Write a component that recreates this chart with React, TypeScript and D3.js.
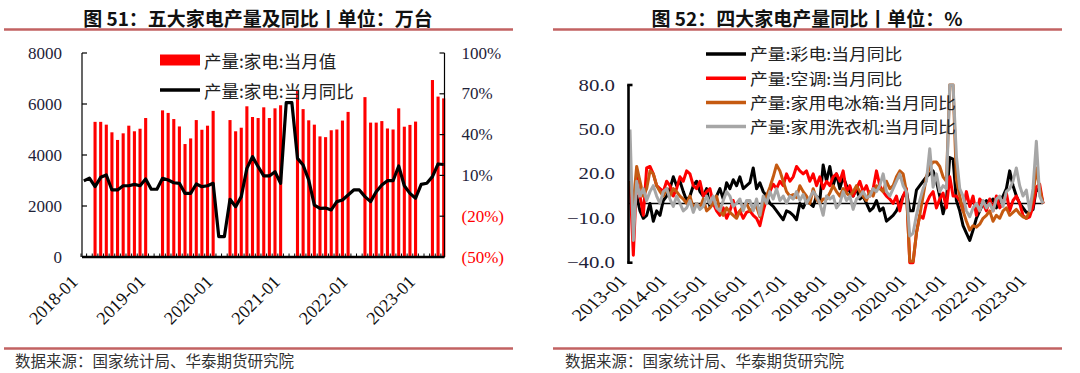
import React from 'react';
import * as d3 from 'd3';

const W = 1080;
const H = 373;
const SERIF = '"Liberation Serif", "Times New Roman", serif';
const CJK = '"Noto Sans CJK SC", "Noto Sans", sans-serif';
const RULE = '#c26262';

// month categories, "YYYY-MM"
const monthsFrom = (y0: number, n: number) =>
  d3.range(n).map(i => `${y0 + Math.floor(i / 12)}-${String((i % 12) + 1).padStart(2, '0')}`);

// ---- 图51: 五大家电产量 (万台) + 同比 (%) ----
const leftMonths = monthsFrom(2018, 65);
const homeOutput: (number | null)[] = [
  null, null, 5300, 5300, 5190, 4890, 4590, 4850, 5150, 4930, 5030, 5450,
  null, null, 5750, 5650, 5410, 5120, 4430, 4650, 5370, 4990, 5150, 5730,
  null, null, 5370, 4930, 5070, 5910, 5490, 5450, 5870, 5450, 5830, 5950,
  null, null, 6550, 5800, 5360, 5190, 4730, 4700, 4970, 5000, 5350, 5690,
  null, null, 6270, 5270, 5270, 5330, 5040, 5000, 5830, 5110, 5180, 5310,
  null, null, 6940, 6290, 6220,
];
const homeOutputYoY: number[] = [
  6, 8, 1.7, 8.6, 10.3, -0.7, -0.7, 2.4, 2.4, 3.4, 2.4, 7.4,
  -0.2, -0.2, 7.9, 6.6, 4.6, 4.2, -3.2, -3.2, 3.7, 1.7, 2.4, 4.2,
  -35, -35, -7.6, -13, -5.6, 15.2, 23.8, 16.4, 9.6, 9.6, 12.7, 4.2,
  63.5, 63.5, 22.5, 17.6, 6.6, -11.8, -14.2, -14, -15.4, -9.3, -8.1, -4.4,
  -0.7, -0.7, -5.6, -9.3, -2, 2.9, 6.1, 6.1, 16.9, 2.4, -3.2, -6.8,
  3.4, 4.2, 9.1, 18.4, 18,
];
const outputTicks = [0, 2000, 4000, 6000, 8000];
const yoyPctTicks = [-50, -20, 10, 40, 70, 100];

// ---- 图52: 四大家电产量同比 (%) ----
const rightMonths = monthsFrom(2013, 125);
const tvYoY: number[] = [
  15, -10, 5, -5, -10, -8, 0, -12, -5, -8, 2, 5,
  10, 18, 12, 15, 8, 2, 5, 12, 15, 8, 5, 10,
  -2, 0, 5, 10, 3, 14, 10, 16, 12, 18, 10, 12,
  14, 24, 10, 14, 8, 5, 0, -2, -5, -8, -11, -5,
  -6, -8, -11, 0, -3, 2, 0, -2, 5, 2, 26, 15,
  25, 12, 20, 10, 18, 12, 8, 5, 10, 3, 5, 0,
  -5, -3, 2, -5, -3, -12, -10, -8, -5, 0, 5, 8,
  -5, -5, 9, 12, 15, 18, 20, 22, 15, 5, -7, 2,
  31, 30, 2, -5, -15, -20, -25, -18, -10, -5, 0, 2,
  0, 3, -3, 2, 5, 10, 22, 12, 5, 0, -3, -6,
  -6, -4, 10, 8, 0,
];
const acYoY: number[] = [
  15, -35, 18, 5, -8, 24, 25, 20, 12, 10, 8, 15,
  12, 5, 10, 18, 15, 22, 20, 12, 10, 15, 5, 8,
  10, 0, -5, -8, -3, -10, -5, 2, -8, -5, -10, -6,
  -5, -8, -10, -15, -5, 3, 8, 13, 10, 15, 12, 20,
  15, 18, 25, 22, 20, 22, 15, 20, 12, 18, 10, 15,
  12, 18, 20, 15, 22, 8, 12, 5, 10, 15, 8, 12,
  5, 10, 22, 12, 8, 5, 3, 0, 5, -5, 5, 10,
  -40, -40, -20, -8, -10, 0, 5, 8, -3, 3, 7, -3,
  18, 5, 5, 2, -5, 8, -2, 5, -8, 3, 0, -5,
  3, -5, 5, -3, 0, 7, -5, 2, 5, 0, -8, -10,
  -9, -2, 11, 13, 0,
];
const fridgeYoY: number[] = [
  15, 0, 25, 15, 5, 10, 22, 20, 12, 8, 5, 10,
  5, 10, 8, 5, 3, 0, 5, -3, 0, -3, 3, -5,
  -3, 0, 5, -5, -8, -3, -6, -8, -10, -5, -2, 0,
  -5, -3, -2, -9, 0, 5, 11, 18, 26, 22, 15, 8,
  5, 6, 4, 12, 8, 5, 0, 10, 3, 0, 3, 3,
  7, 12, 8, 5, 10, 7, 5, 8, 12, 8, 5, 2,
  8, 5, 12, 10, 8, 15, 10, 12, 18, 22, 20, 8,
  -39, -39, -20, -8, 5, 18, 25, 28, 28, 25, 18, 15,
  80, 80, 16, 5, -5, -12, -18, -15, -16, -14, -10, -8,
  -5, -12, -8, -10, -5, -3, -8, -6, -4, -7, -9, -10,
  -5, 5, 24, 10, 0,
];
const washerYoY: number[] = [
  50, -25, 15, 5, 10, 2, 8, 12, 5, 0, 8, 10,
  3, -2, 5, 0, -5, -3, 2, -6, 0, -4, -2, 5,
  0, 5, -3, -5, 2, 8, 5, -2, 0, 3, -5, 2,
  2, -5, 3, -8, 5, 0, 8, 3, 10, 2, 5, 0,
  5, 3, 8, 2, 6, 0, 4, 8, 5, 0, -8, 5,
  3, 5, -3, 0, 8, 2, 5, -4, 3, 5, 8, 4,
  5, 10, 8, 12, 20, 8, 5, 10, 15, 20, 12, 8,
  -22, -20, -8, 2, 10, 15, 37, 11, 20, 8, 12, 10,
  80, 80, 32, 10, 5, -5, -9, -3, 0, -5, 2, -3,
  0, -5, 3, 5, -2, 8, 10, 15, 24, 12, 5, 9,
  -5, 10, 42, 5, 0,
];
const fourTicks = [-40, -10, 20, 50, 80];

const fourSeries = [
  { name: '产量:彩电:当月同比', color: '#000000', values: tvYoY },
  { name: '产量:空调:当月同比', color: '#ff0000', values: acYoY },
  { name: '产量:家用电冰箱:当月同比', color: '#c55a11', values: fridgeYoY },
  { name: '产量:家用洗衣机:当月同比', color: '#a6a6a6', values: washerYoY },
];

const pctLabel = (v: number) => (v < 0 ? `(${-v}%)` : `${v}%`);

const LeftPanel: React.FC = () => {
  const top = 53, bottom = 257, left = 82, right = 444.5;
  const x = d3.scaleBand<string>().domain(leftMonths).range([81, 446.5]).paddingInner(0.45).paddingOuter(0.225);
  const yL = d3.scaleLinear().domain([0, 8000]).range([bottom, top]);
  const yR = d3.scaleLinear().domain([-50, 100]).range([bottom, top]);
  const cx = (m: string) => (x(m) ?? 0) + x.bandwidth() / 2;
  const line = d3.line<number>().x((_, i) => cx(leftMonths[i])).y(d => yR(d));
  const boundaries = leftMonths.map(m => (x(m) ?? 0) - (x.step() - x.bandwidth()) / 2);

  return (
    <g>
      <text x={258} y={17} textAnchor="middle" dominantBaseline="central" fontFamily={CJK} fontWeight={700} fontSize={19} fill="#111">
        图 51：五大家电产量及同比丨单位：万台
      </text>
      <line x1={4} x2={513} y1={29.5} y2={29.5} stroke={RULE} strokeWidth={2.5} />

      {homeOutput.map((v, i) =>
        v == null ? null : (
          <rect key={i} x={x(leftMonths[i])} y={yL(v)} width={x.bandwidth()} height={bottom - yL(v)} fill="#ff0000" />
        )
      )}
      <path d={line(homeOutputYoY) ?? ''} fill="none" stroke="#000" strokeWidth={3.2} strokeLinejoin="round" />

      {/* axes */}
      <line x1={left} x2={left} y1={top} y2={bottom} stroke="#000" strokeWidth={1.2} />
      <line x1={right} x2={right} y1={top} y2={bottom} stroke="#000" strokeWidth={1.2} />
      {outputTicks.map(t => (
        <g key={t}>
          <line x1={left} x2={left + 5} y1={yL(t)} y2={yL(t)} stroke="#000" strokeWidth={1.2} />
          <text x={62} y={yL(t)} textAnchor="end" dominantBaseline="central" fontFamily={SERIF} fontSize={17} fill="#1e2238">
            {t}
          </text>
        </g>
      ))}
      {yoyPctTicks.map(t => (
        <g key={t}>
          <line x1={right - 5} x2={right} y1={yR(t)} y2={yR(t)} stroke="#000" strokeWidth={1.2} />
          <text x={461.5} y={yR(t)} dominantBaseline="central" fontFamily={SERIF} fontSize={17} fill={t < 0 ? '#ff0000' : '#1e2238'}>
            {pctLabel(t)}
          </text>
        </g>
      ))}
      <line x1={left} x2={right} y1={bottom} y2={bottom} stroke="#000" strokeWidth={2.4} />
      {boundaries.map((bx, i) => (
        <line key={i} x1={bx} x2={bx} y1={bottom} y2={bottom - 3.5} stroke="#000" strokeWidth={1} />
      ))}
      {leftMonths.map(m =>
        m.endsWith('-01') ? (
          <text key={m} transform={`translate(${cx(m) - 5},${283}) rotate(-45)`} textAnchor="end" fontFamily={SERIF} fontSize={18} fill="#111">
            {m}
          </text>
        ) : null
      )}

      {/* legend */}
      <rect x={160} y={54.5} width={40} height={11} fill="#ff0000" />
      <text x={204} y={60} dominantBaseline="central" fontFamily={CJK} fontSize={17.5} fill="#222">产量:家电:当月值</text>
      <line x1={160} x2={200} y1={90} y2={90} stroke="#000" strokeWidth={3.5} />
      <text x={204} y={90} dominantBaseline="central" fontFamily={CJK} fontSize={17.5} fill="#222">产量:家电:当月同比</text>

      <line x1={4} x2={513} y1={348.5} y2={348.5} stroke={RULE} strokeWidth={2.5} />
      <text x={15} y={360} dominantBaseline="central" fontFamily={CJK} fontSize={15.5} fill="#333">
        数据来源：国家统计局、华泰期货研究院
      </text>
    </g>
  );
};

const RightPanel: React.FC = () => {
  const top = 85, bottom = 262.7, axisX = 628.5;
  const x = d3.scalePoint<string>().domain(rightMonths).range([630, 1043]);
  const y = d3.scaleLinear().domain([-40, 80]).range([bottom, top]);
  const line = d3.line<number>().x((_, i) => x(rightMonths[i]) ?? 0).y(d => y(d));
  const sx = 1.15;

  return (
    <g>
      <text x={807} y={17} textAnchor="middle" dominantBaseline="central" fontFamily={CJK} fontWeight={700} fontSize={19} fill="#111">
        图 52：四大家电产量同比丨单位：%
      </text>
      <line x1={553} x2={1062} y1={29.5} y2={29.5} stroke={RULE} strokeWidth={2.5} />

      <line x1={axisX} x2={1043} y1={y(0)} y2={y(0)} stroke="#000" strokeWidth={1.6} />
      {fourSeries.map(s => (
        <path key={s.name} d={line(s.values) ?? ''} fill="none" stroke={s.color} strokeWidth={3} strokeLinejoin="round" />
      ))}

      <line x1={axisX} x2={axisX} y1={top} y2={bottom} stroke="#000" strokeWidth={2.6} />
      <line x1={axisX - 1.3} x2={axisX + 4} y1={top} y2={top} stroke="#000" strokeWidth={2.6} />
      <line x1={axisX - 1.3} x2={axisX + 4} y1={bottom} y2={bottom} stroke="#000" strokeWidth={2.6} />
      {fourTicks.map(t => (
        <text key={t} transform={`translate(615,${y(t)}) scale(1.3,1)`} textAnchor="end" dominantBaseline="central" fontFamily={SERIF} fontSize={16} fill="#1e2238">
          {d3.format('.1f')(t)}
        </text>
      ))}
      {rightMonths.map(m =>
        m.endsWith('-01') ? (
          <text key={m} transform={`translate(${(x(m) ?? 0) - 2},${282}) scale(1.2,1) rotate(-45)`} textAnchor="end" fontFamily={SERIF} fontSize={17} fill="#111">
            {m}
          </text>
        ) : null
      )}

      {fourSeries.map((s, i) => {
        const ly = 54 + i * 24.2;
        return (
          <g key={s.name}>
            <line x1={706} x2={746} y1={ly} y2={ly} stroke={s.color} strokeWidth={3.5} />
            <text transform={`translate(750,${ly}) scale(${sx},1)`} dominantBaseline="central" fontFamily={CJK} fontSize={15.5} fill="#222">
              {s.name}
            </text>
          </g>
        );
      })}

      <line x1={553} x2={1062} y1={348.5} y2={348.5} stroke={RULE} strokeWidth={2.5} />
      <text x={565} y={360} dominantBaseline="central" fontFamily={CJK} fontSize={15.5} fill="#333">
        数据来源：国家统计局、华泰期货研究院
      </text>
    </g>
  );
};

export default function App() {
  return (
    <svg width={W} height={H} viewBox={`0 0 ${W} ${H}`} style={{ position: 'absolute', left: 0, top: 0, background: '#fff' }}>
      <rect width={W} height={H} fill="#fff" />
      <LeftPanel />
      <RightPanel />
    </svg>
  );
}
